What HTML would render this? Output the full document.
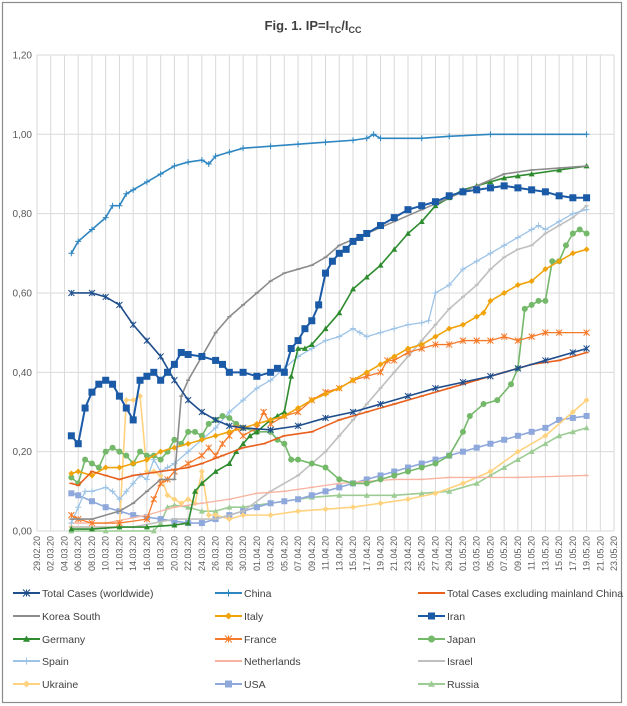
<!DOCTYPE html>
<html><head><meta charset="utf-8"><style>
body{margin:0;background:#fff;}
svg{display:block;font-family:"Liberation Sans",sans-serif;}
</style></head><body>
<svg id="chart" width="627" height="706" viewBox="0 0 627 706" xmlns="http://www.w3.org/2000/svg">
<rect x="2.5" y="2.5" width="619" height="700" fill="#fff" stroke="#8c8c8c" stroke-width="1.2"/>
<text x="313" y="30" text-anchor="middle" font-size="13" font-weight="bold" fill="#404040">Fig. 1. IP=I<tspan font-size="9" dy="3">TC</tspan><tspan dy="-3">/I</tspan><tspan font-size="9" dy="3">CC</tspan></text>
<g id="grid"></g><g id="axes"></g><g id="series"></g><g id="legend"></g>
</svg>
<script>
const dateLabels=["29.02.20","02.03.20","04.03.20","06.03.20","08.03.20","10.03.20","12.03.20","14.03.20","16.03.20","18.03.20","20.03.20","22.03.20","24.03.20","26.03.20","28.03.20","30.03.20","01.04.20","03.04.20","05.04.20","07.04.20","09.04.20","11.04.20","13.04.20","15.04.20","17.04.20","19.04.20","21.04.20","23.04.20","25.04.20","27.04.20","29.04.20","01.05.20","03.05.20","05.05.20","07.05.20","09.05.20","11.05.20","13.05.20","15.05.20","17.05.20","19.05.20","21.05.20","23.05.20"];
const yTicks=[0,0.2,0.4,0.6,0.8,1.0,1.2];
const seriesNames=["Total Cases (worldwide)","China","Total Cases excluding mainland China","Korea South","Italy","Iran","Germany","France","Japan","Spain","Netherlands","Israel","Ukraine","USA","Russia"];
const worldDays=[5,8,10,12,14,16,18,20,22,24,26,28,30,34,38,42,46,50,54,58,62,66,70,74,78,80];
const worldVals=[.60,.60,.59,.57,.52,.48,.44,.38,.33,.30,.28,.265,.26,.255,.265,.285,.30,.32,.34,.36,.375,.39,.41,.43,.45,.46];
const chinaDays=[5,6,8,10,11,12,13,14,16,18,20,22,24,25,26,28,30,34,38,42,46,48,49,50,56,60,66,80];
const chinaVals=[.70,.73,.76,.79,.82,.82,.85,.86,.88,.90,.92,.93,.935,.925,.945,.955,.965,.97,.975,.98,.985,.99,1.0,.99,.99,.995,1.0,1.0];
const exclDays=[5,6,8,10,12,14,18,22,24,27,30,33,36,40,44,48,52,56,60,64,68,72,76,80];
const exclVals=[.12,.115,.15,.14,.13,.14,.15,.16,.17,.19,.21,.22,.24,.25,.28,.30,.32,.34,.36,.38,.40,.42,.43,.45];
const koreaDays=[5,8,12,14,16,18,20,21,22,24,26,28,30,32,34,36,38,40,42,44,48,52,56,60,64,68,72,76,80];
const koreaVals=[.03,.03,.05,.07,.10,.13,.13,.34,.38,.44,.50,.54,.57,.60,.63,.65,.66,.67,.69,.72,.75,.78,.81,.84,.87,.90,.91,.915,.92];
const italyDays=[5,6,8,10,12,14,16,18,20,22,24,26,28,30,32,34,36,38,40,42,44,46,48,50,52,54,56,58,60,62,64,65,66,68,70,72,74,76,78,80];
const italyVals=[.145,.15,.14,.16,.16,.17,.18,.20,.21,.22,.23,.24,.25,.26,.27,.28,.29,.31,.33,.345,.36,.38,.40,.42,.44,.46,.47,.49,.51,.52,.54,.55,.58,.60,.62,.63,.66,.68,.70,.71];
const iranDays=[5,6,7,8,9,10,11,12,13,14,15,16,17,18,19,20,21,22,24,26,27,28,30,32,34,35,36,37,38,39,40,41,42,43,44,45,46,47,48,50,52,54,56,58,60,62,64,66,68,70,72,74,76,78,80];
const iranVals=[.24,.22,.31,.35,.37,.38,.37,.34,.31,.28,.38,.39,.40,.38,.40,.42,.45,.445,.44,.43,.42,.40,.40,.39,.40,.41,.40,.46,.48,.51,.53,.57,.65,.68,.70,.71,.73,.74,.75,.77,.79,.81,.82,.83,.845,.855,.86,.865,.87,.865,.86,.855,.845,.84,.84];
const germanyDays=[5,8,12,16,20,22,23,24,26,28,29,30,31,32,34,35,36,37,38,39,40,42,44,46,48,50,52,54,56,58,60,62,64,66,68,70,72,76,80];
const germanyVals=[.005,.005,.01,.01,.015,.02,.10,.12,.15,.17,.20,.22,.24,.25,.28,.29,.30,.39,.46,.46,.47,.51,.55,.61,.64,.67,.71,.75,.78,.82,.84,.86,.87,.88,.89,.895,.90,.91,.92];
const franceDays=[5,6,8,12,16,17,18,19,20,22,24,25,26,27,28,29,30,32,33,34,36,38,40,42,44,46,48,50,51,52,54,56,58,60,62,64,66,68,70,72,74,76,80];
const franceVals=[.04,.03,.02,.02,.03,.08,.12,.13,.15,.17,.19,.21,.19,.22,.24,.26,.24,.26,.30,.27,.29,.30,.33,.35,.36,.38,.39,.40,.43,.43,.45,.46,.47,.47,.48,.48,.48,.49,.48,.49,.50,.50,.50];
const japanDays=[5,6,7,8,9,10,11,12,13,14,15,16,17,18,19,20,21,22,23,24,25,26,27,28,29,30,32,34,35,36,37,38,40,42,44,46,48,50,52,54,56,58,60,62,63,65,67,69,70,71,72,73,74,75,76,77,78,79,80];
const japanVals=[.135,.12,.18,.17,.16,.20,.21,.20,.19,.17,.20,.19,.19,.18,.20,.23,.22,.25,.25,.24,.27,.28,.29,.285,.27,.26,.25,.25,.23,.22,.18,.18,.17,.16,.13,.12,.12,.13,.14,.15,.16,.17,.19,.25,.29,.32,.33,.37,.41,.56,.57,.58,.58,.68,.68,.72,.75,.76,.75];
const spainDays=[5,6,7,8,10,11,12,13,14,15,16,17,18,19,20,22,24,26,28,30,32,34,36,38,40,42,44,46,47,48,50,52,54,56,57,58,60,62,64,66,68,70,72,73,74,76,78,80];
const spainVals=[.02,.06,.10,.10,.11,.10,.08,.10,.12,.14,.13,.18,.15,.16,.17,.20,.23,.26,.30,.33,.36,.38,.41,.44,.46,.48,.49,.51,.50,.49,.50,.51,.52,.525,.53,.60,.62,.66,.68,.70,.72,.74,.76,.77,.76,.78,.80,.81];
const nethDays=[5,10,16,20,24,28,32,36,40,44,48,52,56,60,64,70,80];
const nethVals=[.02,.02,.04,.06,.07,.08,.095,.10,.11,.12,.125,.13,.13,.135,.135,.135,.14];
const israelDays=[5,14,20,26,30,34,38,40,42,44,46,48,50,52,54,56,58,60,62,64,66,68,70,72,74,76,78,80];
const israelVals=[.01,.01,.03,.03,.05,.10,.14,.17,.20,.24,.28,.32,.36,.40,.44,.48,.52,.56,.59,.62,.66,.69,.71,.72,.75,.77,.79,.82];
const ukraineDays=[5,12,13,14,15,16,17,18,19,20,21,22,23,24,25,26,28,30,34,38,42,46,50,54,58,62,66,70,74,78,80];
const ukraineVals=[.01,.01,.33,.33,.34,.15,.15,.14,.09,.08,.07,.08,.07,.15,.04,.04,.03,.04,.04,.05,.055,.06,.07,.08,.095,.12,.15,.20,.24,.30,.33];
const usaDays=[5,6,8,10,12,14,16,18,20,22,24,26,28,30,32,34,36,38,40,42,44,46,48,50,52,54,56,58,60,62,64,66,68,70,72,74,76,78,80];
const usaVals=[.095,.09,.075,.06,.05,.04,.035,.03,.025,.02,.02,.03,.04,.05,.06,.07,.075,.08,.09,.10,.11,.12,.13,.14,.15,.16,.17,.18,.19,.20,.21,.22,.23,.24,.25,.26,.28,.285,.29];
const russiaDays=[5,10,17,18,19,20,22,24,26,28,30,32,34,36,38,40,44,48,52,56,60,64,66,68,70,72,74,76,78,80];
const russiaVals=[0,0,0,.02,.06,.065,.06,.05,.05,.06,.06,.065,.07,.075,.08,.085,.09,.09,.09,.095,.10,.12,.14,.16,.18,.20,.22,.24,.25,.26];

const seriesDays=[worldDays,chinaDays,exclDays,koreaDays,italyDays,iranDays,germanyDays,franceDays,japanDays,spainDays,nethDays,israelDays,ukraineDays,usaDays,russiaDays];
const seriesVals=[worldVals,chinaVals,exclVals,koreaVals,italyVals,iranVals,germanyVals,franceVals,japanVals,spainVals,nethVals,israelVals,ukraineVals,usaVals,russiaVals];
const styles=[["#1f4e8c","star",1.6],["#2e86c1","plus",1.6],["#e8601c","dash",1.6],["#8c8c8c","dash",1.6],["#f0a30a","diamond",1.6],["#1b5aa6","square",2],["#2e8b2e","triangle",1.6],["#f47a2a","star",1.3],["#74b86a","circle",1.6],["#9dc3e6","plus",1.3],["#f8b3a0","dash",1.3],["#bfbfbf","dash",1.6],["#ffd27f","diamond",1.6],["#8fa8dc","square",1.6],["#9ccc94","triangle",1.6]];

const NS="http://www.w3.org/2000/svg";
const X0=37,DX=6.87,Y0=531,YS=396.7;
function xs(d){return X0+d*DX;}
function ys(v){return Y0-v*YS;}
function mk(tag,attrs,parent){const e=document.createElementNS(NS,tag);for(const k in attrs)e.setAttribute(k,attrs[k]);parent.appendChild(e);return e;}
const grid=document.getElementById('grid'),axes=document.getElementById('axes'),ser=document.getElementById('series'),leg=document.getElementById('legend');
dateLabels.forEach((lab,i)=>{
  const x=xs(i*2);
  const l=mk('line',{x1:x,x2:x,y1:55,y2:Y0,stroke:'#d9d9d9','stroke-width':1},grid);
  
  
  const t=mk('text',{x:0,y:0,'font-size':9,fill:'#595959','text-anchor':'end',transform:`translate(${x+3},${Y0+5}) rotate(-90)`},axes);
  t.textContent=lab;
  
  
});
yTicks.forEach(v=>{
  const y=ys(v);
  const l=mk('line',{x1:X0,x2:614,y1:y,y2:y,stroke:'#d9d9d9','stroke-width':1},grid);
  
  
  const t=mk('text',{x:X0-5,y:y+3.5,'font-size':10,fill:'#595959','text-anchor':'end'},axes);
  t.textContent=v.toFixed(2).replace('.',',');
  
  
});
function marker(g,shape,x,y,c,s){
  s=s||3;
  if(shape==='square')mk('rect',{x:x-s,y:y-s,width:2*s,height:2*s,fill:c},g);
  else if(shape==='circle')mk('circle',{cx:x,cy:y,r:s,fill:c},g);
  else if(shape==='diamond')mk('polygon',{points:`${x},${y-s} ${x+s},${y} ${x},${y+s} ${x-s},${y}`,fill:c},g);
  else if(shape==='triangle')mk('polygon',{points:`${x},${y-s} ${x+s},${y+s*0.8} ${x-s},${y+s*0.8}`,fill:c},g);
  else if(shape==='plus')mk('path',{d:`M${x-s} ${y}H${x+s}M${x} ${y-s}V${y+s}`,stroke:c,'stroke-width':1,fill:'none'},g);
  else if(shape==='star')mk('path',{d:`M${x-s} ${y-s}L${x+s} ${y+s}M${x-s} ${y+s}L${x+s} ${y-s}M${x} ${y-s}V${y+s}`,stroke:c,'stroke-width':1,fill:'none'},g);
  else if(shape==='dash')mk('path',{d:`M${x-2} ${y}H${x+2}`,stroke:c,'stroke-width':1.5},g);
}
const drawOrder=[14,13,12,11,10,9,8,7,6,4,3,2,0,5,1];
drawOrder.forEach(i=>{
  const [c,shape,w]=styles[i];
  const g=mk('g',{},ser);
  
  
  const pts=seriesDays[i].map((d,k)=>[xs(d),ys(seriesVals[i][k])]);
  mk('polyline',{points:pts.map(p=>p.join(',')).join(' '),fill:'none',stroke:c,'stroke-width':w,'stroke-linejoin':'round'},g);
  const sz=shape==='square'?(i===5?3.5:3):3;
  pts.forEach(p=>marker(g,shape,p[0],p[1],c,sz));
});
const colX=[13,215,418],rowY=[593,616,639,661,684];
seriesNames.forEach((n,i)=>{
  const x=colX[i%3],y=rowY[Math.floor(i/3)];
  const [c,shape]=styles[i];
  const g=mk('g',{},leg);
  
  
  mk('line',{x1:x,x2:x+27,y1:y,y2:y,stroke:c,'stroke-width':2},g);
  marker(g,shape,x+13.5,y,c,3.5);
  const t=mk('text',{x:x+29,y:y+4,'font-size':10.5,fill:'#404040'},g);
  if(n.length>30){t.setAttribute('textLength',176);t.setAttribute('lengthAdjust','spacingAndGlyphs');}
  t.textContent=n;
});
</script>
</body></html>
